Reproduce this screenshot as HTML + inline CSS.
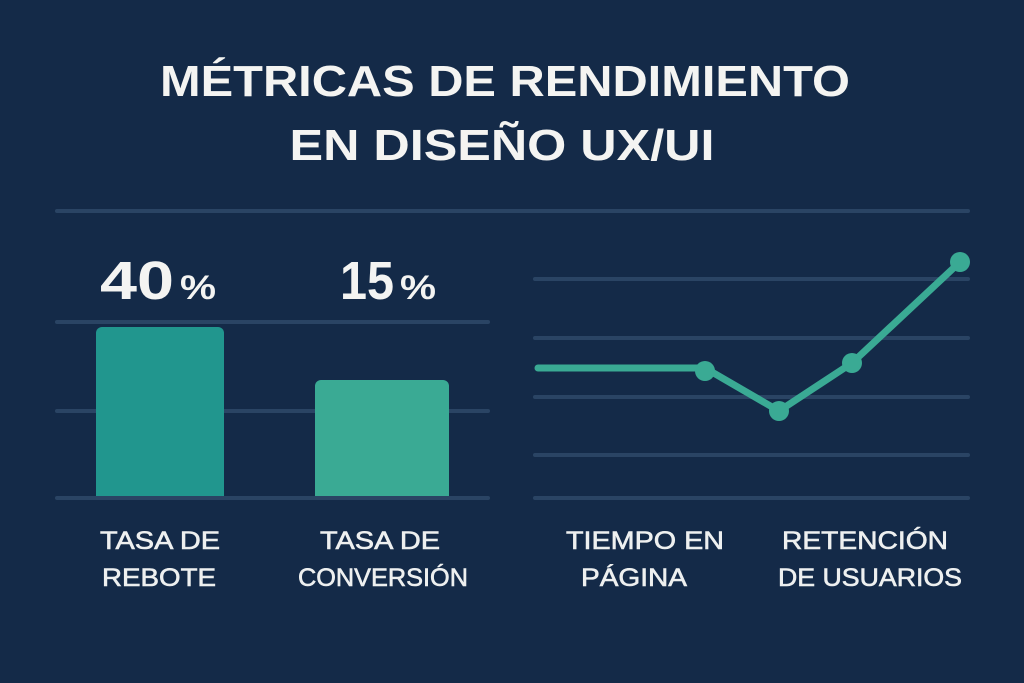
<!DOCTYPE html>
<html><head><meta charset="utf-8"><style>
html,body{margin:0;padding:0;background:#142a48;}
svg{display:block;}
</style></head><body>
<svg width="1024" height="683" viewBox="0 0 1024 683" xmlns="http://www.w3.org/2000/svg">
<rect width="1024" height="683" fill="#142a48"/>
<g font-family="Liberation Sans, DejaVu Sans, sans-serif" fill="#f4f4f2" text-anchor="middle">
<text x="505" y="96" font-size="44" font-weight="bold" textLength="690" lengthAdjust="spacingAndGlyphs">MÉTRICAS DE RENDIMIENTO</text>
<text x="502" y="160" font-size="44" font-weight="bold" textLength="425" lengthAdjust="spacingAndGlyphs">EN DISEÑO UX/UI</text>
</g>
<g stroke="#2a4464" stroke-width="4" stroke-linecap="round">
<line x1="57" y1="211" x2="968" y2="211"/>
<line x1="57" y1="322" x2="488" y2="322"/>
<line x1="57" y1="411" x2="488" y2="411"/>
<line x1="57" y1="498" x2="488" y2="498"/>
<line x1="535" y1="279" x2="968" y2="279"/>
<line x1="535" y1="338" x2="968" y2="338"/>
<line x1="535" y1="397" x2="968" y2="397"/>
<line x1="535" y1="455" x2="968" y2="455"/>
<line x1="535" y1="498" x2="968" y2="498"/>
</g>
<path d="M96,496 V333 a6,6 0 0 1 6,-6 H218 a6,6 0 0 1 6,6 V496 Z" fill="#21968e"/>
<path d="M315,496 V386 a6,6 0 0 1 6,-6 H443 a6,6 0 0 1 6,6 V496 Z" fill="#3aaa94"/>
<polyline points="538,368 705,368 779,411 852,363 960,262" fill="none" stroke="#3aaa94" stroke-width="7" stroke-linecap="round" stroke-linejoin="round"/>
<g fill="#3aaa94">
<circle cx="705" cy="371" r="10"/><circle cx="779" cy="411" r="10"/><circle cx="852" cy="363" r="10"/><circle cx="960" cy="262" r="10"/>
</g>
<g font-family="Liberation Sans, DejaVu Sans, sans-serif" fill="#f4f4f2" font-weight="bold">
<text x="100" y="299" font-size="54" textLength="74" lengthAdjust="spacingAndGlyphs">40</text>
<text x="180" y="299" font-size="34" textLength="36" lengthAdjust="spacingAndGlyphs">%</text>
<text x="340" y="299" font-size="54" textLength="54" lengthAdjust="spacingAndGlyphs">15</text>
<text x="400" y="299" font-size="34" textLength="36" lengthAdjust="spacingAndGlyphs">%</text>
</g>
<g font-family="Liberation Sans, DejaVu Sans, sans-serif" fill="#eef0f0" font-size="25" text-anchor="middle" stroke="#eef0f0" stroke-width="0.6">
<text x="160" y="549" textLength="120" lengthAdjust="spacingAndGlyphs">TASA DE</text>
<text x="159" y="586" textLength="114" lengthAdjust="spacingAndGlyphs">REBOTE</text>
<text x="380" y="549" textLength="120" lengthAdjust="spacingAndGlyphs">TASA DE</text>
<text x="383" y="586" textLength="170" lengthAdjust="spacingAndGlyphs">CONVERSIÓN</text>
<text x="645" y="549" textLength="158" lengthAdjust="spacingAndGlyphs">TIEMPO EN</text>
<text x="634" y="586" textLength="106" lengthAdjust="spacingAndGlyphs">PÁGINA</text>
<text x="865" y="549" textLength="166" lengthAdjust="spacingAndGlyphs">RETENCIÓN</text>
<text x="870" y="586" textLength="184" lengthAdjust="spacingAndGlyphs">DE USUARIOS</text>
</g>
</svg>
</body></html>
